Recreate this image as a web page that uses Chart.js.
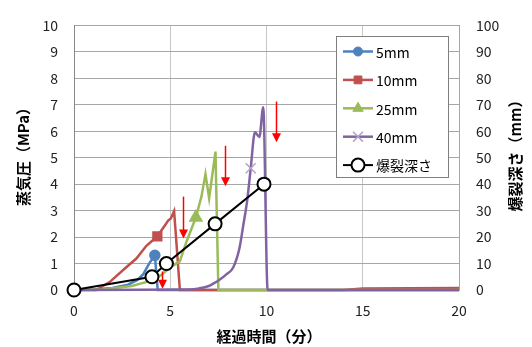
<!DOCTYPE html>
<html><head><meta charset="utf-8">
<script src="https://cdn.jsdelivr.net/npm/chart.js@4.4.0/dist/chart.umd.min.js"></script>
<style>html,body{margin:0;padding:0;background:#fff;}#wrap{width:532px;height:347px;}</style>
</head><body><div id="wrap"><canvas id="c" width="532" height="347"></canvas></div>
<script>
const FONT = '"Noto Sans CJK JP","Noto Sans",sans-serif';
const xTitle = '経過時間（分）';
const yTitle = '蒸気圧（MPa）';
const y2Title = '爆裂深さ（mm）';
const seriesNames = ['5mm', '10mm', '25mm', '40mm', '爆裂深さ'];
const xTicks = [0, 5, 10, 15, 20];

// 5mm
const t5 = [0, 1, 2, 2.8, 3.3, 3.6, 3.9, 4.2, 4.35, 20];
const p5 = [0, 0.02, 0.08, 0.2, 0.38, 0.6, 1.0, 1.31, 0, 0];
const mark5 = 7;
// 10mm
const t10 = [0, 1.15, 1.85, 2.7, 3.24, 3.76, 4.33, 4.71, 4.9, 5.03, 5.2, 5.5, 14, 15, 20];
const p10 = [0, 0, 0.3, 0.85, 1.19, 1.67, 2.03, 2.43, 2.63, 2.7, 2.98, 0, 0, 0.06, 0.08];
const mark10 = 6;
// 25mm
const t25 = [0, 1.5, 3, 3.5, 4, 4.5, 5, 5.5, 5.84, 6.33, 6.62, 6.83, 7.02, 7.35, 7.5, 20];
const p25 = [0, 0.02, 0.15, 0.25, 0.35, 0.55, 0.85, 1.09, 1.82, 2.74, 3.53, 4.38, 3.47, 5.23, 0, 0];
const mark25 = 9;
// 40mm
const t40 = [0, 6, 6.5, 7, 7.23, 7.58, 7.93, 8.27, 8.6, 8.79, 9.0, 9.18, 9.4, 9.63, 9.83, 10.06, 20];
const p40 = [0, 0.02, 0.06, 0.15, 0.24, 0.4, 0.6, 0.85, 1.6, 2.43, 3.4, 4.6, 5.96, 5.78, 6.91, 0, 0];
const mark40 = 11;
// 爆裂深さ (mm, right axis)
const tDepth = [0, 4.05, 4.8, 7.33, 9.87];
const depth = [0, 5, 10, 25, 40];

// red arrows (annotations)
const arrowX = [4.55, 5.67, 7.82, 10.48];
const arrowTop = [0.7, 3.53, 5.45, 7.12];
const arrowTip = [0.05, 1.95, 3.92, 5.58];

const pts = (xs, ys) => xs.map((x, i) => ({x, y: ys[i]}));
const markR = (idx, r) => (c => c.dataIndex === idx ? r : 0);

const datasets = [
  {label: seriesNames[4], data: pts(tDepth, depth), yAxisID: 'y2', borderColor: '#000', borderWidth: 2,
   pointStyle: 'circle', pointRadius: 6.5, pointBackgroundColor: '#fff', pointBorderColor: '#000', pointBorderWidth: 2, order: 0, clip: false},
  {label: seriesNames[3], data: pts(t40, p40), yAxisID: 'y', borderColor: '#8064A2', borderWidth: 2.5,
   pointStyle: 'crossRot', pointRadius: markR(mark40, 7), pointBorderColor: '#B3A2C7', pointBorderWidth: 1.5, order: 1,
   cubicInterpolationMode: 'monotone', clip: false},
  {label: seriesNames[2], data: pts(t25, p25), yAxisID: 'y', borderColor: '#9BBB59', borderWidth: 2.5,
   pointStyle: 'triangle', pointRadius: markR(mark25, 6), pointBackgroundColor: '#9BBB59', pointBorderColor: '#9BBB59', order: 2, clip: false},
  {label: seriesNames[1], data: pts(t10, p10), yAxisID: 'y', borderColor: '#C0504D', borderWidth: 2.5,
   pointStyle: 'rect', pointRadius: markR(mark10, 5.5), pointBackgroundColor: '#C0504D', pointBorderColor: '#C0504D', order: 3, clip: false},
  {label: seriesNames[0], data: pts(t5, p5), yAxisID: 'y', borderColor: '#4F81BD', borderWidth: 2.5,
   pointStyle: 'circle', pointRadius: markR(mark5, 4.5), pointBackgroundColor: '#4F81BD', pointBorderColor: '#4F81BD', order: 4, clip: false}
];

const arrowsPlugin = {
  id: 'arrows',
  afterDatasetsDraw(chart) {
    const {ctx, scales} = chart;
    ctx.save();
    ctx.strokeStyle = '#FF0000'; ctx.fillStyle = '#FF0000'; ctx.lineWidth = 1.5;
    arrowX.forEach((ax, i) => {
      const px = Math.round(scales.x.getPixelForValue(ax)) + 0.5;
      const top = scales.y.getPixelForValue(arrowTop[i]);
      const tip = scales.y.getPixelForValue(arrowTip[i]);
      const hh = 9, hw = 4.5;
      ctx.beginPath(); ctx.moveTo(px, top); ctx.lineTo(px, tip - hh + 1); ctx.stroke();
      ctx.beginPath(); ctx.moveTo(px - hw, tip - hh); ctx.lineTo(px + hw, tip - hh); ctx.lineTo(px, tip); ctx.closePath(); ctx.fill();
    });
    ctx.restore();
  }
};

const legendPlugin = {
  id: 'customLegend',
  afterDraw(chart) {
    const ctx = chart.ctx;
    const bx = 336.5, by = 36.5, bw = 112, bh = 141;
    ctx.save();
    ctx.fillStyle = '#fff'; ctx.fillRect(bx, by, bw, bh);
    ctx.strokeStyle = '#7F7F7F'; ctx.lineWidth = 1; ctx.strokeRect(bx, by, bw, bh);
    const order = [4, 3, 2, 1, 0];
    order.forEach((di, row) => {
      const ds = chart.data.datasets[di];
      const y = 51.5 + row * 28.4;
      ctx.strokeStyle = ds.borderColor; ctx.lineWidth = ds.borderWidth;
      ctx.beginPath(); ctx.moveTo(343, y); ctx.lineTo(373, y); ctx.stroke();
      const r = typeof ds.pointRadius === 'function' ? ({circle: 4.5, rect: 5.5, triangle: 6, crossRot: 7})[ds.pointStyle] : ds.pointRadius;
      ctx.fillStyle = ds.pointBackgroundColor || ds.borderColor;
      ctx.strokeStyle = ds.pointBorderColor || ds.borderColor;
      ctx.lineWidth = ds.pointBorderWidth || 1;
      Chart.helpers.drawPoint(ctx, {pointStyle: ds.pointStyle, radius: r, rotation: 0, borderWidth: ctx.lineWidth}, 358, y);
      ctx.fillStyle = '#000'; ctx.font = '14px ' + FONT; ctx.textBaseline = 'middle'; ctx.textAlign = 'left';
      ctx.fillText(ds.label, 376, y + 1);
    });
    ctx.restore();
  }
};

const titlesPlugin = {
  id: 'titles',
  afterDraw(chart) {
    const ctx = chart.ctx;
    ctx.save();
    ctx.fillStyle = '#000'; ctx.font = 'bold 15px ' + FONT;
    ctx.textAlign = 'center'; ctx.textBaseline = 'middle';
    ctx.fillText(xTitle, 269, 336);
    ctx.save(); ctx.translate(23, 153); ctx.rotate(-Math.PI / 2); ctx.fillText(yTitle, 0, 0); ctx.restore();
    ctx.save(); ctx.translate(515, 152); ctx.rotate(-Math.PI / 2); ctx.fillText(y2Title, 0, 0); ctx.restore();
    ctx.restore();
  }
};

new Chart(document.getElementById('c'), {
  type: 'line',
  data: {datasets},
  options: {
    responsive: false, animation: false,
    layout: {padding: {top: 16, left: 0, right: 0, bottom: 0}},
    elements: {line: {fill: false}},
    plugins: {legend: {display: false}, tooltip: {enabled: false}},
    scales: {
      x: {type: 'linear', min: 0, max: 20,
        afterFit: s => { s.height = 57; },
        afterBuildTicks: s => { s.ticks = xTicks.map(v => ({value: v})); },
        grid: {color: '#C8C8C8', drawTicks: false},
        border: {display: false},
        ticks: {padding: 12, color: '#222', font: {family: FONT, size: 14}}},
      y: {type: 'linear', position: 'left', min: 0, max: 10,
        afterFit: s => { s.width = 74; },
        grid: {color: '#A6A6A6', drawTicks: false},
        border: {display: true, color: '#868686'},
        ticks: {stepSize: 1, padding: 16, color: '#222', font: {family: FONT, size: 14}}},
      y2: {type: 'linear', position: 'right', min: 0, max: 100,
        afterFit: s => { s.width = 73; },
        grid: {display: false, drawTicks: false},
        border: {display: true, color: '#A6A6A6'},
        ticks: {stepSize: 10, padding: 17, color: '#222', font: {family: FONT, size: 14}}}
    }
  },
  plugins: [arrowsPlugin, legendPlugin, titlesPlugin]
});
</script></body></html>
